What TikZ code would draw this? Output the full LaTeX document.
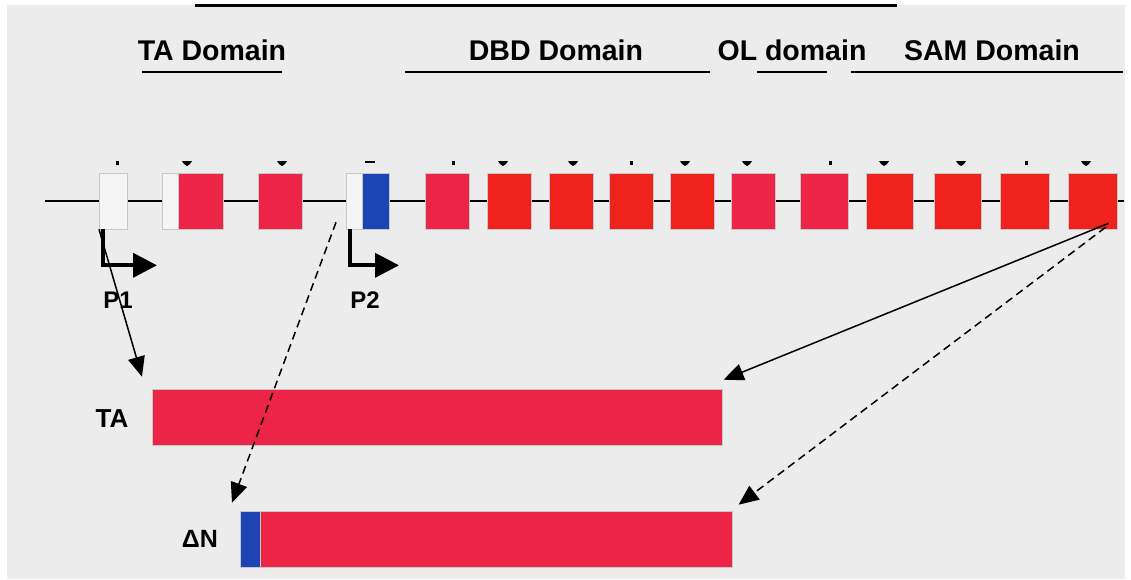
\documentclass[tikz,border=0pt]{standalone}
\usepackage{fontspec}
\setmainfont{Liberation Sans}
\usetikzlibrary{arrows.meta,calc}
\newcommand{\yg}{201}
\newcommand{\he}{56pt}
\definecolor{fondscan}{RGB}{236,236,236}
\definecolor{rosep}{RGB}{236,36,70}
\definecolor{rougep}{RGB}{240,34,30}
\definecolor{bleup}{RGB}{28,68,180}
\tikzstyle{exon}=[draw=black!22, line width=0.6pt, minimum height=\he, inner sep=0pt, anchor=west]
\tikzstyle{barre}=[draw=black!22, line width=0.6pt, minimum height=\he, inner sep=0pt, anchor=west]
\tikzstyle{lab}=[font=\bfseries\fontsize{28.5}{30}\selectfont, anchor=base]
\tikzstyle{plab}=[font=\bfseries\fontsize{24}{26}\selectfont]
\tikzstyle{souligne}=[line width=1.6pt]
\tikzstyle{promo}=[line width=4pt, -{Triangle[length=24pt,width=24pt]}]
\tikzstyle{fleche}=[line width=1.5pt, -{Triangle[length=20pt,width=17pt]}]

\begin{document}
\begin{tikzpicture}[x=1pt,y=-1pt]

\useasboundingbox (0,0) rectangle (1131,579);
\fill[white] (0,0) rectangle (1131,579);
\fill[fondscan] (7,5) rectangle (1125,579);

  \draw[line width=3pt] (195,5) -- (897,5);

\node[lab] (tadom) at (212,60) {TA Domain};
\node[lab] (dbddom) at (556,60) {DBD Domain};
\node[lab] (oldom) at (792,60) {OL domain};
\node[lab] (samdom) at (992,60) {SAM Domain};
\foreach \a/\b in {142/282,405/710,757/827,851/1123}
  \draw[souligne] (\a,72) -- (\b,72);

          % gene
  \draw[line width=2.5pt] (45,\yg) -- (1124,\yg);

\node[exon,fill=white!96!black,minimum width=28pt] (e1) at (99,\yg) {};
\node[exon,fill=white!96!black,minimum width=16pt] (e2a) at (162,\yg) {};
\node[exon,fill=rosep,minimum width=45pt] (e2) at (178,\yg) {};
\node[exon,fill=rosep,minimum width=44pt] (e3) at (258,\yg) {};
\node[exon,fill=white!96!black,minimum width=16pt] (e4a) at (346,\yg) {};
\node[exon,fill=bleup,minimum width=27pt] (e4) at (362,\yg) {};
\foreach \n/\l/\w/\c in {5/425/44/rosep,6/487/44/rougep,7/549/44/rougep,8/609/44/rougep,9/670/44/rougep,10/731/44/rosep,11/800/48/rosep,12/866/47/rougep,13/934/47/rougep,14/1000/49/rougep,15/1068/49/rougep}
  \node[exon,fill=\c,minimum width=\w pt] (e\n) at (\l,\yg) {};

\foreach \x in {117,453,631,830,1026}
  \fill (\x-1.5,161) rectangle (\x+1.5,165);
\foreach \x in {187,282,503,573,685,747,884,961,1086}
  \fill (\x-5,161) -- (\x+5,161) -- (\x+3,164) -- (\x,166) -- (\x-3,164) -- cycle;
\fill (365,161) rectangle (375,163);

  \draw[promo] ([xshift=4pt]e1.south west) |- ++(54,36);
  \draw[promo] ([xshift=4pt]e4a.south west) |- ++(49,36);
\node[plab] (p1) at (118,300) {P1};
\node[plab] (p2) at (365,300) {P2};

          % proteins
\node[barre,fill=rosep,minimum width=570pt] (ta) at (152,417) {};
\node[barre,fill=bleup,minimum width=20pt] (dna) at (240,539) {};
\node[barre,fill=rosep,minimum width=472pt] (dn) at (260,539) {};
\node[plab,font=\bfseries\fontsize{26}{28}\selectfont] (talab) at (112,419) {TA};
\node[plab,font=\bfseries\fontsize{25}{27}\selectfont] (dnlab) at (200,539) {ΔN};

\draw[fleche] (e1.south west) -- ($(ta.north west)+(-10,-12)$);
\draw[fleche,dash pattern=on 8pt off 5pt] ($(e4a.south west)+(-10,-7)$) -- ($(dna.north west)+(-8,-8)$);
\draw[fleche] ($(e15.south east)+(-9,-6)$) -- ($(ta.north east)+(1,-9)$);
\draw[fleche,dash pattern=on 8pt off 5pt] ($(e15.south east)+(-12,-2)$) -- ($(dn.north east)+(6,-6)$);

\end{tikzpicture}
\end{document}
